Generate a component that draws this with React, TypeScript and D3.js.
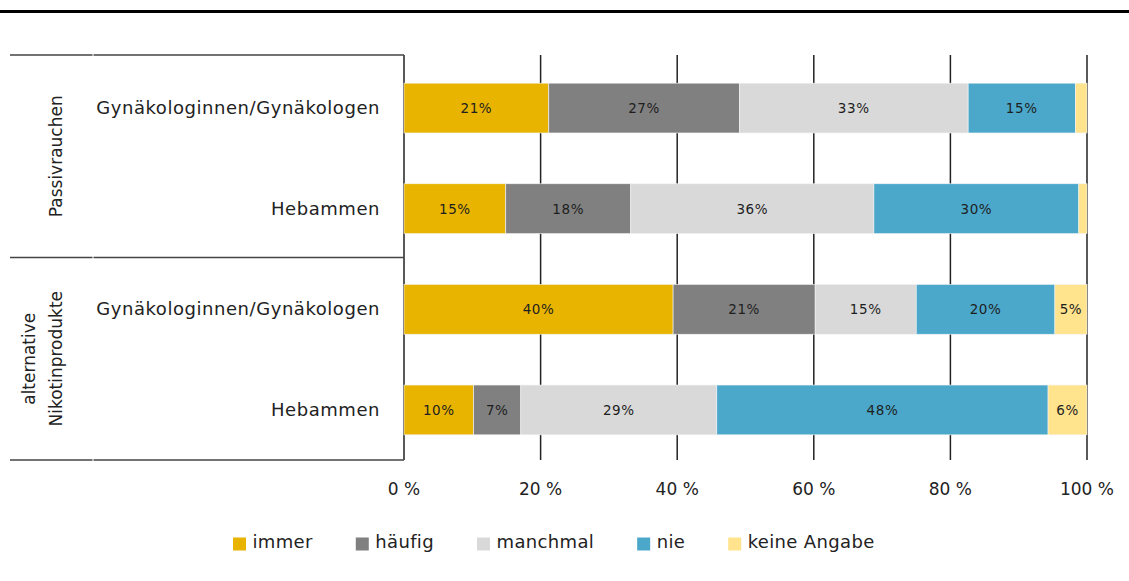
import React from "react";
import * as d3 from "d3";

const rowLabels = ["Gynäkologinnen/Gynäkologen", "Hebammen", "Gynäkologinnen/Gynäkologen", "Hebammen"];
const groupLabels = [["Passivrauchen"], ["alternative", "Nikotinprodukte"]];
const groupSizes = [2, 2];
const seriesNames = ["immer", "häufig", "manchmal", "nie", "keine Angabe"];
const seriesColors = ["#E8B400", "#808080", "#D9D9D9", "#4BA8CB", "#FFE38D"];

const immer = [21.2, 14.9, 39.4, 10.2];
const haeufig = [27.9, 18.3, 20.8, 6.9];
const manchmal = [33.5, 35.6, 14.8, 28.7];
const nie = [15.7, 30.0, 20.3, 48.5];
const keineAngabe = [1.7, 1.2, 4.7, 5.7];

const immerLabels = ["21%", "15%", "40%", "10%"];
const haeufigLabels = ["27%", "18%", "21%", "7%"];
const manchmalLabels = ["33%", "36%", "15%", "29%"];
const nieLabels = ["15%", "30%", "20%", "48%"];
const keineLabels = ["", "", "5%", "6%"];

const tickValues = [0, 20, 40, 60, 80, 100];
const tickLabels = ["0 %", "20 %", "40 %", "60 %", "80 %", "100 %"];

const W = 1129;
const H = 581;
const FONT = "'DejaVu Sans', Verdana, sans-serif";

export default function App() {
  const seriesValues = [immer, haeufig, manchmal, nie, keineAngabe];
  const seriesLabels = [immerLabels, haeufigLabels, manchmalLabels, nieLabels, keineLabels];
  const table = rowLabels.map((_, i) => {
    const o: any = { idx: String(i) };
    seriesNames.forEach((s, k) => (o[s] = seriesValues[k][i]));
    return o;
  });
  const stacked = d3.stack<any>().keys(seriesNames)(table);

  const top = 55;
  const bottom = 460;
  const x = d3.scaleLinear().domain([0, 100]).range([404, 1087]);
  const y = d3
    .scaleBand<string>()
    .domain(rowLabels.map((_, i) => String(i)))
    .range([top + 1.5, bottom + 1.5])
    .paddingInner(0.505)
    .paddingOuter(0.265);
  const bw = y.bandwidth();

  const boundaries: number[] = [top];
  let acc = 0;
  groupSizes.forEach((n) => {
    acc += n;
    boundaries.push(top + ((bottom - top) * acc) / rowLabels.length);
  });

  const legendLS = 0.35;
  const charW = (s: string) => {
    const m: Record<string, number> = {
      i: 0.278, m: 0.974, e: 0.615, r: 0.411, h: 0.634, ä: 0.613, u: 0.634, f: 0.352, g: 0.635,
      a: 0.613, n: 0.634, c: 0.55, l: 0.278, k: 0.579, " ": 0.318, A: 0.684, b: 0.635,
    };
    return s.split("").reduce((t, ch) => t + (m[ch] ?? 0.6) * 18 + legendLS, 0);
  };
  let lx = 233;
  const legendItems = seriesNames.map((s, k) => {
    const item = { name: s, color: seriesColors[k], x: lx };
    lx += 19.5 + charW(s) + 43;
    return item;
  });

  return (
    <div style={{ position: "absolute", left: 0, top: 0, width: W, height: H, background: "#fff" }}>
      <svg width={W} height={H} style={{ display: "block", fontFamily: FONT }}>
        <rect x={0} y={0} width={W} height={H} fill="#fff" />
        <rect x={0} y={10} width={W} height={3} fill="#000" />

        {tickValues.map((t) => (
          <line key={"g" + t} x1={x(t)} x2={x(t)} y1={top} y2={bottom} stroke="#222" strokeWidth={1.5} />
        ))}

        {boundaries.map((b, i) => (
          <g key={"b" + i}>
            <line x1={10} x2={92.5} y1={b} y2={b} stroke="#444" strokeWidth={1.5} />
            <line x1={93.5} x2={x(0)} y1={b} y2={b} stroke="#444" strokeWidth={1.5} />
          </g>
        ))}

        {stacked.map((layer, k) => (
          <g key={"s" + k}>
            {layer.map((d, i) => {
              const x0 = x(d[0]);
              const x1 = x(d[1]);
              const yy = y(String(i)) as number;
              const lab = seriesLabels[k][i];
              return (
                <g key={i}>
                  <rect x={x0} y={yy} width={x1 - x0} height={bw} fill={seriesColors[k]} stroke="#f4f4f4" strokeWidth={0.6} />
                  {lab && (
                    <text
                      x={(x0 + x1) / 2}
                      y={yy + bw / 2 + 5}
                      textAnchor="middle"
                      fontSize={13.5}
                      letterSpacing={0.6}
                      fill="#1e1e1e"
                    >
                      {lab}
                    </text>
                  )}
                </g>
              );
            })}
          </g>
        ))}

        {rowLabels.map((r, i) => (
          <text
            key={"r" + i}
            x={380}
            y={(y(String(i)) as number) + bw / 2 + 6}
            textAnchor="end"
            fontSize={18}
            letterSpacing={0.55}
            fill="#222"
          >
            {r}
          </text>
        ))}

        {groupLabels.map((lines, g) => {
          const cy = (boundaries[g] + boundaries[g + 1]) / 2;
          return lines.map((ln, j) => {
            const bx = 62 - (lines.length - 1 - j) * 27;
            return (
              <text
                key={"grp" + g + "-" + j}
                transform={`translate(${bx},${cy}) rotate(-90)`}
                textAnchor="middle"
                fontSize={17}
                fill="#222"
              >
                {ln}
              </text>
            );
          });
        })}

        {tickValues.map((t, i) => (
          <text key={"t" + t} x={x(t)} y={495} textAnchor="middle" fontSize={17} fill="#222">
            {tickLabels[i]}
          </text>
        ))}

        {legendItems.map((it) => (
          <g key={it.name}>
            <rect x={it.x} y={537.5} width={13} height={13} fill={it.color} />
            <text x={it.x + 19.5} y={548} fontSize={18} letterSpacing={legendLS} fill="#222">
              {it.name}
            </text>
          </g>
        ))}
      </svg>
    </div>
  );
}
